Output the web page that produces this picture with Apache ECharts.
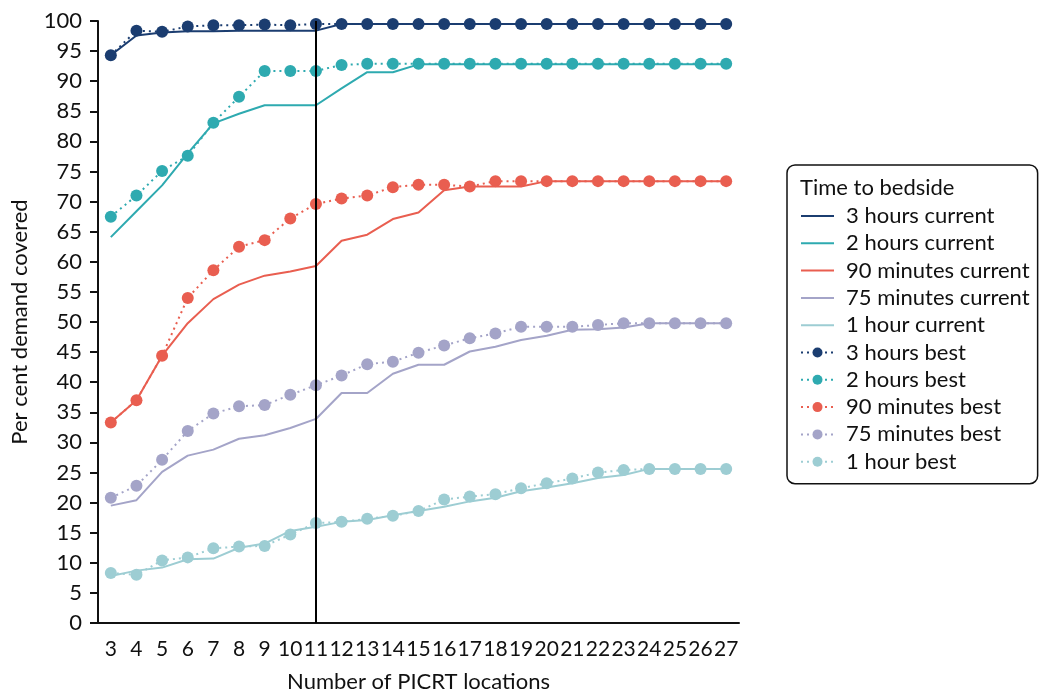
<!DOCTYPE html>
<html>
<head>
<meta charset="utf-8">
<script src="https://cdn.jsdelivr.net/npm/echarts@6/dist/echarts.min.js"></script>
<style>
  html, body { margin: 0; padding: 0; background: #ffffff; }
  #chart { width: 1040px; height: 691px; }
</style>
</head>
<body>
<div id="chart"></div>
<script>
// Number of PICRT locations
const categories = ['3','4','5','6','7','8','9','10','11','12','13','14','15','16','17','18','19','20','21','22','23','24','25','26','27'];

// Per cent demand covered, current configuration
const threeHoursCurrent = [94.3, 97.6, 98.1, 98.3, 98.3, 98.4, 98.4, 98.4, 98.4, 99.5, 99.5, 99.5, 99.5, 99.5, 99.5, 99.5, 99.5, 99.5, 99.5, 99.5, 99.5, 99.5, 99.5, 99.5, 99.5];
const twoHoursCurrent = [64.1, 68.4, 72.7, 78.0, 83.0, 84.6, 86.0, 86.0, 86.0, 88.8, 91.5, 91.5, 92.8, 92.8, 92.8, 92.8, 92.8, 92.8, 92.8, 92.8, 92.8, 92.8, 92.8, 92.8, 92.8];
const ninetyMinutesCurrent = [33.3, 37.0, 44.4, 49.8, 53.8, 56.2, 57.7, 58.4, 59.3, 63.5, 64.5, 67.1, 68.2, 71.9, 72.5, 72.5, 72.5, 73.4, 73.4, 73.4, 73.4, 73.4, 73.4, 73.4, 73.4];
const seventyFiveMinutesCurrent = [19.5, 20.4, 25.1, 27.8, 28.8, 30.6, 31.2, 32.4, 33.9, 38.2, 38.2, 41.4, 42.9, 42.9, 45.1, 45.9, 47.0, 47.7, 48.7, 48.8, 49.1, 49.8, 49.8, 49.8, 49.8];
const oneHourCurrent = [7.8, 8.7, 9.2, 10.6, 10.7, 12.5, 13.2, 15.3, 16.0, 16.8, 17.1, 17.9, 18.6, 19.3, 20.2, 20.8, 21.9, 22.5, 23.2, 24.1, 24.6, 25.6, 25.6, 25.6, 25.6];

// Per cent demand covered, best configuration
const threeHoursBest = [94.3, 98.4, 98.2, 99.1, 99.3, 99.3, 99.4, 99.3, 99.5, 99.5, 99.5, 99.5, 99.5, 99.5, 99.5, 99.5, 99.5, 99.5, 99.5, 99.5, 99.5, 99.5, 99.5, 99.5, 99.5];
const twoHoursBest = [67.5, 71.0, 75.1, 77.6, 83.1, 87.4, 91.7, 91.7, 91.7, 92.7, 92.9, 92.9, 92.9, 92.9, 92.9, 92.9, 92.9, 92.9, 92.9, 92.9, 92.9, 92.9, 92.9, 92.9, 92.9];
const ninetyMinutesBest = [33.3, 37.0, 44.4, 54.0, 58.6, 62.5, 63.6, 67.2, 69.6, 70.5, 71.0, 72.4, 72.8, 72.8, 72.5, 73.4, 73.4, 73.4, 73.4, 73.4, 73.4, 73.4, 73.4, 73.4, 73.4];
const seventyFiveMinutesBest = [20.8, 22.8, 27.1, 31.9, 34.8, 36.0, 36.2, 37.9, 39.5, 41.1, 43.0, 43.4, 44.9, 46.1, 47.3, 48.1, 49.2, 49.2, 49.2, 49.5, 49.8, 49.8, 49.8, 49.8, 49.8];
const oneHourBest = [8.3, 8.0, 10.4, 10.9, 12.4, 12.7, 12.8, 14.7, 16.6, 16.8, 17.3, 17.8, 18.6, 20.5, 21.0, 21.4, 22.4, 23.2, 24.0, 25.0, 25.4, 25.6, 25.6, 25.6, 25.6];

// Reference position marked with a vertical line
const markedLocation = '11';

const FONT = 'Lato';
const FONT_SIZE = 22;
const colors = {
  three: '#1b3d70',
  two: '#2eaab0',
  ninety: '#e95e50',
  seventyFive: '#a4a4c8',
  one: '#9dcdd3'
};

function currentSeries(name, data, color) {
  return {
    name: name,
    type: 'line',
    data: data,
    symbol: 'none',
    color: color,
    lineStyle: { color: color, width: 2, type: 'solid' },
    z: 2,
    silent: true
  };
}

function bestSeries(name, data, color) {
  return {
    name: name,
    type: 'line',
    data: data,
    symbol: 'circle',
    symbolSize: 12,
    showAllSymbol: true,
    color: color,
    itemStyle: { color: color },
    lineStyle: { color: color, width: 2, type: [2, 4] },
    z: 3,
    silent: true
  };
}

const series = [
  currentSeries('3 hours current', threeHoursCurrent, colors.three),
  currentSeries('2 hours current', twoHoursCurrent, colors.two),
  currentSeries('90 minutes current', ninetyMinutesCurrent, colors.ninety),
  currentSeries('75 minutes current', seventyFiveMinutesCurrent, colors.seventyFive),
  currentSeries('1 hour current', oneHourCurrent, colors.one),
  bestSeries('3 hours best', threeHoursBest, colors.three),
  bestSeries('2 hours best', twoHoursBest, colors.two),
  bestSeries('90 minutes best', ninetyMinutesBest, colors.ninety),
  bestSeries('75 minutes best', seventyFiveMinutesBest, colors.seventyFive),
  bestSeries('1 hour best', oneHourBest, colors.one)
];

series[0].markLine = {
  silent: true,
  symbol: 'none',
  label: { show: false },
  lineStyle: { color: '#000', width: 2, type: 'solid' },
  data: [{ xAxis: markedLocation }],
  z: 5
};

// Solid-line entries show only the line in the legend, no marker
const legendData = series.map(function (s) {
  if (s.symbol === 'none') {
    return { name: s.name, itemStyle: { opacity: 0 } };
  }
  return { name: s.name };
});

const chart = echarts.init(document.getElementById('chart'), null, { renderer: 'canvas' });

chart.setOption({
  backgroundColor: '#ffffff',
  animation: false,
  textStyle: { fontFamily: FONT },
  grid: { left: 98, width: 641, top: 21, height: 602, containLabel: false, outerBoundsMode: 'none' },
  xAxis: {
    type: 'category',
    data: categories,
    boundaryGap: true,
    name: 'Number of PICRT locations',
    nameLocation: 'middle',
    nameGap: 48,
    nameTextStyle: { color: '#111', fontSize: FONT_SIZE, fontFamily: FONT },
    axisLine: { lineStyle: { color: '#111', width: 2 } },
    axisTick: { alignWithLabel: true, length: 9, lineStyle: { color: '#111', width: 2 } },
    axisLabel: { color: '#111', fontSize: 21, fontFamily: FONT, margin: 16, interval: 0, hideOverlap: false },
    splitLine: { show: false }
  },
  yAxis: {
    type: 'value',
    min: 0,
    max: 100,
    interval: 5,
    name: 'Per cent demand covered',
    nameLocation: 'middle',
    nameGap: 67,
    nameRotate: 90,
    nameTextStyle: { color: '#111', fontSize: FONT_SIZE, fontFamily: FONT },
    axisLine: { show: true, lineStyle: { color: '#111', width: 2 } },
    axisTick: { show: true, length: 8, lineStyle: { color: '#111', width: 2 } },
    axisLabel: { color: '#111', fontSize: FONT_SIZE, fontFamily: FONT, margin: 16 },
    splitLine: { show: false }
  },
  legend: {
    orient: 'vertical',
    left: 787,
    top: 165,
    padding: [40, 8, 11, 13],
    itemWidth: 33,
    itemHeight: 12.5,
    itemGap: 5.3,
    selectedMode: false,
    borderColor: '#111',
    borderWidth: 1.5,
    borderRadius: 8,
    textStyle: { color: '#111', fontSize: FONT_SIZE, fontFamily: FONT, lineHeight: 22, padding: [0, 0, 0, 7] },
    data: legendData
  },
  graphic: [{
    type: 'text',
    left: 800,
    top: 177,
    silent: true,
    style: { text: 'Time to bedside', fill: '#111', fontSize: FONT_SIZE, fontFamily: FONT }
  }],
  series: series
});
</script>
</body>
</html>
